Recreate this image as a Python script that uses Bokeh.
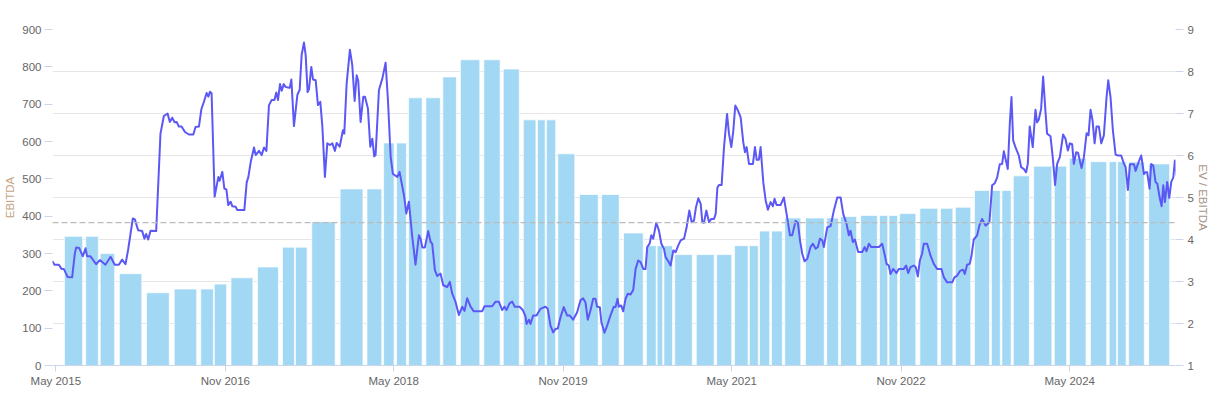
from datetime import datetime, timedelta, timezone

from bokeh.plotting import figure
from bokeh.models import (Range1d, LinearAxis, FixedTicker, DatetimeTickFormatter,
                          Span, Grid, ColumnDataSource)
from bokeh.embed import file_html
from bokeh.resources import INLINE

# ---------------- data ----------------
# EBITDA per reporting period (bars): period start, period end, value
bar_start = [
    "2015-05-29", "2015-08-06", "2015-09-22", "2015-11-23", "2016-02-19", "2016-05-19",
    "2016-08-13", "2016-09-26", "2016-11-19", "2017-02-13", "2017-05-05", "2017-06-16",
    "2017-08-08", "2017-11-08", "2018-02-03", "2018-03-29", "2018-05-10", "2018-06-18",
    "2018-08-13", "2018-10-07", "2018-12-03", "2019-02-17", "2019-04-21", "2019-06-25",
    "2019-08-10", "2019-09-08", "2019-10-15", "2019-12-24", "2020-03-05", "2020-05-15",
    "2020-07-28", "2020-09-01", "2020-09-23", "2020-10-28", "2021-01-06", "2021-03-13",
    "2021-05-10", "2021-06-27", "2021-07-30", "2021-09-07", "2021-10-20", "2021-12-26",
    "2022-03-05", "2022-04-19", "2022-06-23", "2022-08-23", "2022-09-23", "2022-10-27",
    "2023-01-01", "2023-03-09", "2023-04-26", "2023-06-27", "2023-08-21", "2023-09-24",
    "2023-10-31", "2024-01-05", "2024-03-12", "2024-04-30", "2024-07-07", "2024-09-06",
    "2024-10-03", "2024-11-08", "2025-01-12",
]
bar_end = [
    "2015-07-27", "2015-09-16", "2015-11-08", "2016-02-04", "2016-05-03", "2016-07-31",
    "2016-09-23", "2016-11-05", "2017-01-29", "2017-04-22", "2017-06-13", "2017-07-24",
    "2017-10-23", "2018-01-21", "2018-03-23", "2018-05-02", "2018-06-11", "2018-08-01",
    "2018-09-29", "2018-11-20", "2019-02-04", "2019-04-11", "2019-06-12", "2019-08-05",
    "2019-09-04", "2019-10-08", "2019-12-09", "2020-02-23", "2020-05-01", "2020-07-18",
    "2020-08-29", "2020-09-19", "2020-10-21", "2020-12-24", "2021-03-05", "2021-05-01",
    "2021-06-23", "2021-07-26", "2021-09-01", "2021-10-12", "2021-12-11", "2022-02-25",
    "2022-04-12", "2022-06-10", "2022-08-16", "2022-09-19", "2022-10-21", "2022-12-19",
    "2023-02-28", "2023-04-18", "2023-06-15", "2023-08-15", "2023-09-19", "2023-10-24",
    "2023-12-22", "2024-03-04", "2024-04-21", "2024-06-23", "2024-08-29", "2024-09-30",
    "2024-10-31", "2024-12-29", "2025-03-21",
]
ebitda = [
    346, 346, 300, 246, 195, 205, 205, 218, 235, 264, 317, 317,
    385, 473, 473, 596, 596, 717, 717, 773, 819, 819, 794, 658,
    658, 658, 567, 458, 458, 355, 321, 321, 321, 297, 297, 297,
    321, 321, 360, 360, 395, 395, 395, 399, 402, 402, 402, 407,
    421, 421, 424, 469, 469, 469, 508, 534, 534, 555, 546, 546,
    546, 545, 540,
]

# EV / EBITDA multiple (line): time in decimal years, value
ev_year = [
    2015.297, 2015.317, 2015.356, 2015.380, 2015.400, 2015.433, 2015.474, 2015.498, 2015.510, 2015.536,
    2015.569, 2015.593, 2015.607, 2015.637, 2015.687, 2015.720, 2015.770, 2015.815, 2015.853, 2015.889,
    2015.918, 2015.948, 2015.971, 2016.013, 2016.031, 2016.060, 2016.096, 2016.116, 2016.131, 2016.149,
    2016.170, 2016.220, 2016.258, 2016.288, 2016.321, 2016.341, 2016.362, 2016.383, 2016.401, 2016.421,
    2016.445, 2016.475, 2016.510, 2016.549, 2016.569, 2016.599, 2016.620, 2016.643, 2016.667, 2016.682,
    2016.697, 2016.711, 2016.738, 2016.771, 2016.782, 2016.806, 2016.824, 2016.842, 2016.859, 2016.880,
    2016.895, 2016.924, 2016.939, 2017.001, 2017.022, 2017.037, 2017.058, 2017.087, 2017.102, 2017.131,
    2017.155, 2017.176, 2017.197, 2017.220, 2017.244, 2017.268, 2017.285, 2017.300, 2017.318, 2017.333,
    2017.351, 2017.368, 2017.404, 2017.419, 2017.442, 2017.472, 2017.493, 2017.510, 2017.531, 2017.546,
    2017.563, 2017.575, 2017.596, 2017.611, 2017.635, 2017.655, 2017.676, 2017.694, 2017.717, 2017.738,
    2017.762, 2017.783, 2017.806, 2017.821, 2017.848, 2017.877, 2017.889, 2017.910, 2017.939, 2017.960,
    2017.981, 2017.999, 2018.013, 2018.034, 2018.058, 2018.073, 2018.099, 2018.120, 2018.138, 2018.155,
    2018.167, 2018.197, 2018.227, 2018.256, 2018.277, 2018.301, 2018.321, 2018.360, 2018.380, 2018.419,
    2018.440, 2018.463, 2018.493, 2018.522, 2018.552, 2018.567, 2018.582, 2018.605, 2018.635, 2018.656,
    2018.670, 2018.694, 2018.715, 2018.744, 2018.768, 2018.803, 2018.827, 2018.848, 2018.877, 2018.907,
    2018.937, 2018.957, 2018.981, 2019.011, 2019.040, 2019.114, 2019.135, 2019.203, 2019.233, 2019.262,
    2019.292, 2019.312, 2019.330, 2019.357, 2019.381, 2019.404, 2019.446, 2019.475, 2019.499, 2019.508,
    2019.529, 2019.543, 2019.567, 2019.597, 2019.632, 2019.676, 2019.697, 2019.721, 2019.745, 2019.765,
    2019.786, 2019.810, 2019.839, 2019.869, 2019.893, 2019.922, 2019.958, 2019.987, 2020.011, 2020.032,
    2020.052, 2020.076, 2020.100, 2020.120, 2020.135, 2020.159, 2020.173, 2020.200, 2020.224, 2020.253,
    2020.283, 2020.298, 2020.316, 2020.327, 2020.348, 2020.366, 2020.387, 2020.407, 2020.431, 2020.455,
    2020.476, 2020.499, 2020.520, 2020.544, 2020.564, 2020.579, 2020.600, 2020.615, 2020.632, 2020.659,
    2020.683, 2020.704, 2020.727, 2020.742, 2020.771, 2020.786, 2020.810, 2020.831, 2020.854, 2020.875,
    2020.905, 2020.928, 2020.952, 2020.973, 2020.993, 2021.011, 2021.032, 2021.053, 2021.067, 2021.082,
    2021.103, 2021.127, 2021.147, 2021.171, 2021.186, 2021.201, 2021.215, 2021.239, 2021.260, 2021.287,
    2021.304, 2021.325, 2021.343, 2021.360, 2021.384, 2021.408, 2021.431, 2021.446, 2021.461, 2021.482,
    2021.517, 2021.535, 2021.550, 2021.570, 2021.585, 2021.609, 2021.630, 2021.650, 2021.674, 2021.694,
    2021.709, 2021.727, 2021.762, 2021.792, 2021.816, 2021.846, 2021.866, 2021.896, 2021.917, 2021.935,
    2021.955, 2021.976, 2022.000, 2022.029, 2022.050, 2022.074, 2022.094, 2022.112, 2022.133, 2022.147,
    2022.177, 2022.207, 2022.236, 2022.266, 2022.296, 2022.319, 2022.349, 2022.369, 2022.384, 2022.405,
    2022.423, 2022.452, 2022.488, 2022.509, 2022.526, 2022.547, 2022.568, 2022.636, 2022.665, 2022.686,
    2022.704, 2022.724, 2022.739, 2022.763, 2022.792, 2022.813, 2022.858, 2022.878, 2022.896, 2022.917,
    2022.947, 2022.964, 2022.982, 2023.000, 2023.020, 2023.035, 2023.065, 2023.094, 2023.124, 2023.153,
    2023.192, 2023.213, 2023.242, 2023.287, 2023.307, 2023.331, 2023.360, 2023.384, 2023.399, 2023.420,
    2023.443, 2023.458, 2023.479, 2023.509, 2023.529, 2023.553, 2023.583, 2023.618, 2023.642, 2023.666,
    2023.687, 2023.710, 2023.731, 2023.746, 2023.763, 2023.781, 2023.799, 2023.814, 2023.829, 2023.849,
    2023.879, 2023.900, 2023.923, 2023.944, 2023.959, 2023.976, 2024.003, 2024.027, 2024.041, 2024.056,
    2024.077, 2024.095, 2024.115, 2024.130, 2024.160, 2024.180, 2024.201, 2024.219, 2024.243, 2024.272,
    2024.293, 2024.314, 2024.332, 2024.352, 2024.367, 2024.388, 2024.405, 2024.435, 2024.456, 2024.480,
    2024.497, 2024.515, 2024.533, 2024.551, 2024.568, 2024.589, 2024.610, 2024.633, 2024.657, 2024.672,
    2024.692, 2024.713, 2024.737, 2024.758, 2024.787, 2024.811, 2024.826, 2024.846, 2024.864, 2024.900,
    2024.914, 2024.935, 2024.964, 2024.988, 2025.003, 2025.017, 2025.038, 2025.053, 2025.071, 2025.091,
    2025.107, 2025.127, 2025.145, 2025.160, 2025.174, 2025.195, 2025.213, 2025.231, 2025.249, 2025.263,
    2025.278,
]
ev_ebitda = [
    3.49, 3.40, 3.40, 3.30, 3.30, 3.11, 3.10, 3.67, 3.81, 3.80,
    3.60, 3.79, 3.60, 3.60, 3.41, 3.51, 3.40, 3.59, 3.40, 3.40,
    3.52, 3.41, 3.75, 4.50, 4.48, 4.22, 4.20, 4.02, 4.13, 4.00,
    4.21, 4.20, 6.52, 6.94, 7.00, 6.80, 6.90, 6.79, 6.80, 6.69,
    6.69, 6.56, 6.50, 6.50, 6.68, 6.69, 7.10, 7.28, 7.49, 7.40,
    7.52, 7.48, 5.02, 5.49, 5.40, 5.61, 5.21, 5.19, 4.82, 4.90,
    4.79, 4.78, 4.70, 4.70, 5.36, 5.49, 5.85, 6.19, 6.01, 6.11,
    6.01, 6.19, 6.11, 7.20, 7.32, 7.32, 7.50, 7.32, 7.70, 7.54,
    7.70, 7.63, 7.61, 7.81, 6.70, 7.44, 7.57, 8.39, 8.69, 8.39,
    7.51, 7.57, 8.11, 7.81, 7.79, 7.20, 7.28, 6.70, 5.49, 6.29,
    6.25, 6.29, 6.11, 6.30, 6.21, 6.60, 6.52, 7.71, 8.52, 8.15,
    7.30, 7.91, 7.78, 6.80, 7.40, 7.40, 7.12, 6.21, 6.40, 5.98,
    6.01, 7.56, 7.83, 8.21, 7.32, 5.97, 5.56, 5.49, 5.61, 5.06,
    4.62, 4.90, 4.06, 3.40, 4.10, 4.02, 3.81, 3.81, 4.20, 3.94,
    3.90, 3.27, 3.13, 3.19, 2.91, 2.87, 2.99, 2.71, 2.52, 2.20,
    2.40, 2.30, 2.60, 2.40, 2.29, 2.29, 2.41, 2.41, 2.52, 2.52,
    2.32, 2.40, 2.32, 2.48, 2.52, 2.40, 2.40, 2.32, 2.17, 1.99,
    2.09, 1.99, 2.19, 2.19, 2.35, 2.40, 2.35, 1.95, 1.79, 1.87,
    1.88, 2.15, 2.39, 2.19, 2.19, 2.09, 2.27, 2.55, 2.60, 2.50,
    2.09, 2.31, 2.59, 2.59, 2.40, 2.39, 2.03, 1.78, 1.95, 2.19,
    2.40, 2.39, 2.59, 2.40, 2.43, 2.29, 2.59, 2.71, 2.69, 2.80,
    3.30, 3.50, 3.46, 3.30, 3.30, 3.82, 3.90, 4.10, 4.02, 4.40,
    4.21, 3.90, 3.78, 3.58, 3.46, 3.38, 3.74, 3.70, 3.86, 3.98,
    4.02, 4.29, 4.69, 4.41, 4.45, 4.77, 4.98, 4.85, 4.41, 4.40,
    4.69, 4.41, 4.49, 4.49, 4.61, 5.23, 5.30, 5.30, 6.20, 6.99,
    6.52, 6.20, 6.60, 7.19, 7.07, 6.91, 6.32, 6.08, 6.20, 5.80,
    5.80, 6.20, 5.90, 5.90, 6.20, 5.36, 4.93, 4.71, 4.89, 4.79,
    4.97, 4.82, 4.82, 5.00, 4.61, 4.10, 4.10, 4.44, 4.39, 3.98,
    3.66, 3.48, 3.54, 3.82, 3.90, 3.78, 3.82, 4.02, 3.98, 3.82,
    4.29, 4.32, 4.69, 5.00, 5.00, 4.61, 4.37, 4.10, 4.21, 3.94,
    4.00, 3.70, 3.70, 3.82, 3.72, 3.90, 3.82, 3.82, 3.90, 3.66,
    3.42, 3.38, 3.18, 3.30, 3.20, 3.30, 3.30, 3.38, 3.20, 3.34,
    3.38, 3.34, 3.12, 3.50, 3.66, 3.90, 3.90, 3.62, 3.42, 3.30,
    3.30, 3.10, 2.98, 2.98, 3.10, 3.14, 3.26, 3.28, 3.18, 3.40,
    3.42, 3.60, 4.00, 4.10, 4.33, 4.49, 4.33, 4.41, 5.29, 5.34,
    5.48, 5.79, 5.80, 6.10, 5.90, 5.68, 6.75, 7.39, 6.36, 6.20,
    6.00, 5.72, 5.68, 5.60, 5.80, 6.69, 6.20, 7.09, 6.79, 6.85,
    7.11, 7.88, 7.07, 6.52, 6.46, 5.96, 5.30, 5.80, 5.96, 6.50,
    6.40, 6.12, 6.29, 6.27, 5.80, 6.08, 6.06, 5.70, 5.96, 6.53,
    6.48, 7.09, 6.83, 6.29, 6.69, 6.69, 6.29, 6.48, 7.39, 7.79,
    7.39, 6.60, 6.02, 6.00, 6.00, 5.80, 5.72, 5.18, 5.79, 5.79,
    5.63, 5.80, 6.00, 5.56, 5.60, 5.60, 5.21, 5.80, 5.76, 5.37,
    5.33, 5.01, 4.79, 5.29, 4.89, 5.37, 4.99, 5.37, 5.48, 5.88,
    5.52,
]

mean_ev_ebitda = 4.4
x_tick_dates = ["2015-05-01", "2016-11-01", "2018-05-01", "2019-11-01",
                "2021-05-01", "2022-11-01", "2024-05-01"]
left_ticks = [0, 100, 200, 300, 400, 500, 600, 700, 800, 900]
right_ticks = [1, 2, 3, 4, 5, 6, 7, 8, 9]


# ---------------- helpers ----------------
def iso(s):
    return datetime.strptime(s, "%Y-%m-%d")


def from_decimal_year(y):
    yr = int(y)
    start = datetime(yr, 1, 1)
    days = (datetime(yr + 1, 1, 1) - start).days
    return start + timedelta(days=(y - yr) * days)


def ms(dt):
    return dt.replace(tzinfo=timezone.utc).timestamp() * 1000.0


bars = ColumnDataSource(dict(
    left=[iso(s) for s in bar_start],
    right=[iso(s) for s in bar_end],
    top=ebitda,
    bottom=[0] * len(ebitda),
))
line_src = ColumnDataSource(dict(
    x=[from_decimal_year(y) for y in ev_year],
    y=ev_ebitda,
))

TICK_COLOR = "#666666"
LINE_AXIS = "#ccd6eb"
FONT = "Liberation Sans"
FSIZE = "11.5px"

p = figure(
    width=1212, height=398,
    x_axis_type="datetime",
    x_range=Range1d(datetime(2015, 4, 20, 7), datetime(2025, 4, 9)),
    y_range=Range1d(0, 900),
    output_backend="svg", toolbar_location=None,
    min_border_left=52, min_border_right=37, min_border_top=29, min_border_bottom=33,
)
p.extra_y_ranges = {"right": Range1d(1, 9)}
p.outline_line_color = None
p.background_fill_color = "white"
p.border_fill_color = "white"
p.xgrid.visible = False
p.ygrid.visible = False

grid = Grid(dimension=1, ticker=FixedTicker(ticks=right_ticks), y_range_name="right",
            grid_line_color="#e6e6e6", grid_line_width=1)
p.add_layout(grid)

p.quad(left="left", right="right", top="top", bottom="bottom", source=bars,
       fill_color="#a3d8f5", line_color="#ffffff", line_width=1, line_alpha=0.7)

span = Span(location=mean_ev_ebitda, dimension="width", y_range_name="right",
            line_color="#bbbbbb", line_dash="6 3", line_width=1.3)
p.add_layout(span)

p.line(x="x", y="y", source=line_src, y_range_name="right",
       line_color="#5c58f6", line_width=2, line_join="round")

# x axis
xa = p.xaxis[0]
xa.ticker = FixedTicker(ticks=[ms(iso(d)) for d in x_tick_dates])
xa.formatter = DatetimeTickFormatter(
    milliseconds="%b %Y", seconds="%b %Y", minsec="%b %Y", minutes="%b %Y",
    hourmin="%b %Y", hours="%b %Y", days="%b %Y", months="%b %Y", years="%b %Y")
xa.axis_line_color = LINE_AXIS
xa.major_tick_line_color = LINE_AXIS
xa.major_tick_in = 0
xa.major_tick_out = 6
xa.minor_tick_line_color = None
xa.major_label_text_color = TICK_COLOR
xa.major_label_text_font = FONT
xa.major_label_text_font_size = FSIZE
xa.major_label_standoff = 3

# left axis
ya = p.yaxis[0]
ya.ticker = FixedTicker(ticks=left_ticks)
ya.axis_line_color = None
ya.major_tick_line_color = LINE_AXIS
ya.major_tick_in = 0
ya.major_tick_out = 8
ya.minor_tick_line_color = None
ya.major_label_text_color = TICK_COLOR
ya.major_label_text_font = FONT
ya.major_label_text_font_size = FSIZE
ya.major_label_standoff = 3
ya.axis_label = "EBITDA"
ya.axis_label_text_color = "#c4a484"
ya.axis_label_text_font = FONT
ya.axis_label_text_font_size = "11.5px"
ya.axis_label_text_font_style = "normal"
ya.axis_label_standoff = 3

# right axis
ra = LinearAxis(y_range_name="right", ticker=FixedTicker(ticks=right_ticks))
ra.axis_line_color = None
ra.major_tick_line_color = LINE_AXIS
ra.major_tick_in = 0
ra.major_tick_out = 8
ra.minor_tick_line_color = None
ra.major_label_text_color = TICK_COLOR
ra.major_label_text_font = FONT
ra.major_label_text_font_size = FSIZE
ra.major_label_standoff = 4
ra.axis_label = "EV / EBITDA"
ra.axis_label_text_color = "#a8958a"
ra.axis_label_text_font = FONT
ra.axis_label_text_font_size = "11.5px"
ra.axis_label_text_font_style = "normal"
ra.axis_label_standoff = 0
p.add_layout(ra, "right")

open("out.html", "w").write(file_html(p, INLINE))
